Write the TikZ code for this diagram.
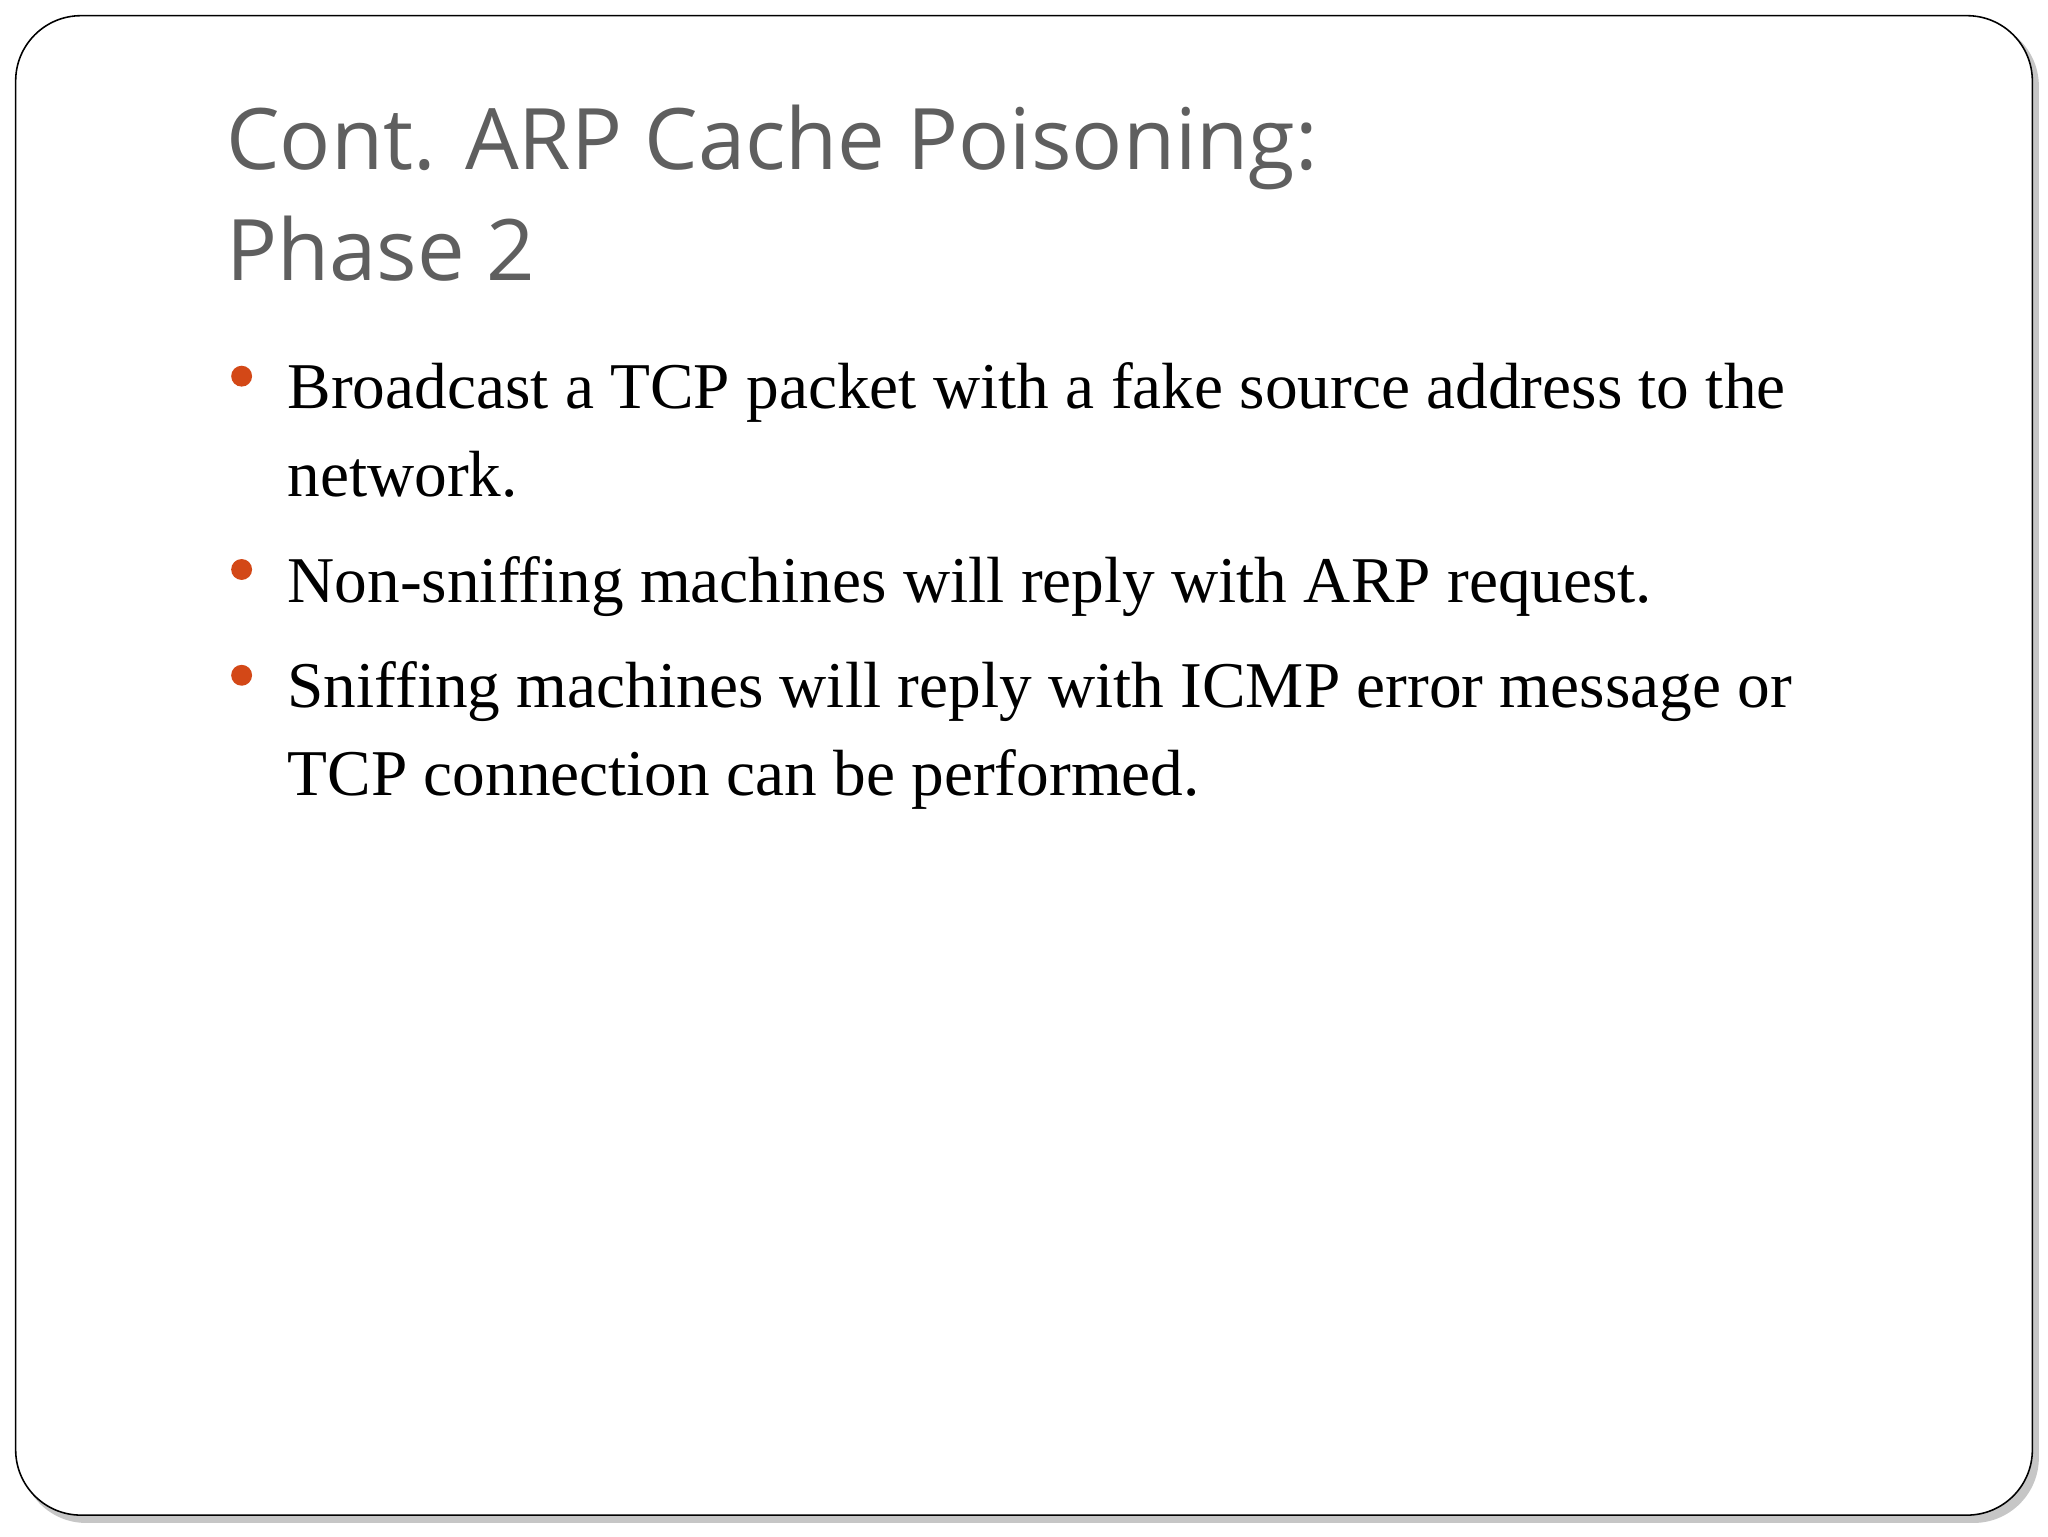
\documentclass[tikz,border=0pt]{standalone}
\usepackage{fontspec}
\setmainfont{Liberation Serif}
\newfontfamily\titlefont{Open Sans}
\definecolor{bul}{HTML}{D34817}
\definecolor{tgray}{HTML}{5F5F5F}
\begin{document}
\begin{tikzpicture}[x=1pt,y=-1pt,
  body/.style={anchor=base west,inner sep=0pt,font=\fontsize{50}{60}\selectfont},
  ttl/.style={anchor=base west,inner sep=0pt,text=tgray,font=\titlefont\fontsize{65}{78}\selectfont},
  dot/.style={circle,fill=bul,minimum size=16pt,inner sep=0pt}]
\useasboundingbox (0,0) rectangle (1568,1176);
\fill[white] (0,0) rectangle (1568,1176);
\fill[gray!45,rounded corners=50pt] (16,16) rectangle (1561,1166);
\draw[black,line width=1.2pt,fill=white,rounded corners=50pt] (12,12) rectangle (1556,1160);
\node[ttl] (t1) at (173,130) {Cont. ARP Cache Poisoning:};
\node[ttl] (t2) at (173,215) {Phase 2};
\node[dot] (d1) at (185,288) {};
\node[dot] (d2) at (185,436) {};
\node[dot] (d3) at (185,517) {};
\node[body] (b1) at (220,313) {Broadcast a TCP packet with a fake source address to the};
\node[body] (b1b) at (220,380) {network.};
\node[body] (b2) at (220,461) {Non-sniffing machines will reply with ARP request.};
\node[body] (b3) at (220,542) {Sniffing machines will reply with ICMP error message or};
\node[body] (b3b) at (220,609) {TCP connection can be performed.};
\end{tikzpicture}
\end{document}
